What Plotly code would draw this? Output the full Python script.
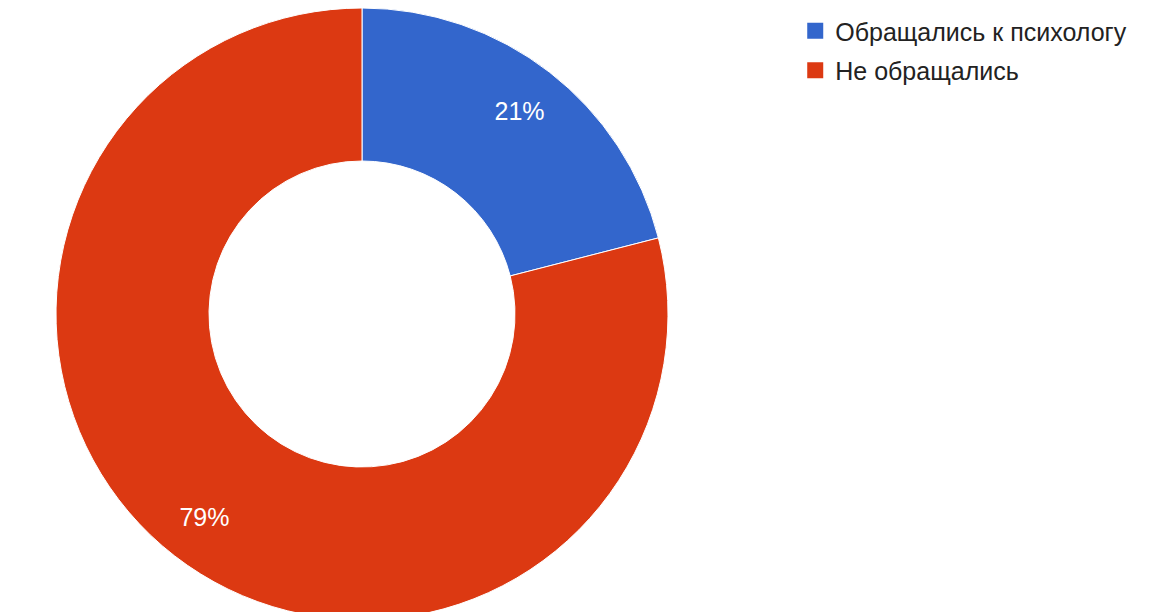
import plotly.graph_objects as go

labels = ["Обращались к психологу", "Не обращались"]
values = [21, 79]
colors = ["#3366CC", "#DC3912"]

pie_domain = dict(x=[0.0, 708 / 1168], y=[0.0, 1.0])

# main donut (no text)
fig = go.Figure(go.Pie(
    labels=labels,
    values=values,
    hole=0.5,
    sort=False,
    direction="clockwise",
    rotation=0,
    marker=dict(colors=colors, line=dict(color="white", width=1)),
    textinfo="none",
    domain=pie_domain,
    showlegend=False,
    hoverinfo="label+percent",
))

# transparent overlay ring used only to place percentage labels further out
fig.add_trace(go.Pie(
    labels=labels,
    values=values,
    hole=0.68,
    sort=False,
    direction="clockwise",
    rotation=0,
    marker=dict(colors=["rgba(0,0,0,0)"] * len(values), line=dict(width=0)),
    texttemplate="%{percent:.0%}",
    textposition="inside",
    insidetextorientation="horizontal",
    textfont=dict(family="Liberation Sans, Arial", size=25, color="white"),
    domain=pie_domain,
    showlegend=False,
    hoverinfo="skip",
))

# legend entries with larger square swatches
for lab, col in zip(labels, colors):
    fig.add_trace(go.Scatter(
        x=[None], y=[None], mode="markers", name=lab, legendgroup=lab,
        marker=dict(symbol="square", size=20, color=col),
        showlegend=True, hoverinfo="skip",
    ))

fig.update_xaxes(visible=False)
fig.update_yaxes(visible=False)

fig.update_layout(
    width=1168,
    height=612,
    margin=dict(l=0, r=0, t=0, b=0),
    paper_bgcolor="white",
    plot_bgcolor="white",
    font=dict(family="Liberation Sans, Arial", color="#222222"),
    legend=dict(
        x=0.674, y=1.0, xanchor="left", yanchor="top",
        font=dict(size=25, color="#222222"),
        itemsizing="trace",
        tracegroupgap=4,
    ),
)

fig.write_html("out.html")
